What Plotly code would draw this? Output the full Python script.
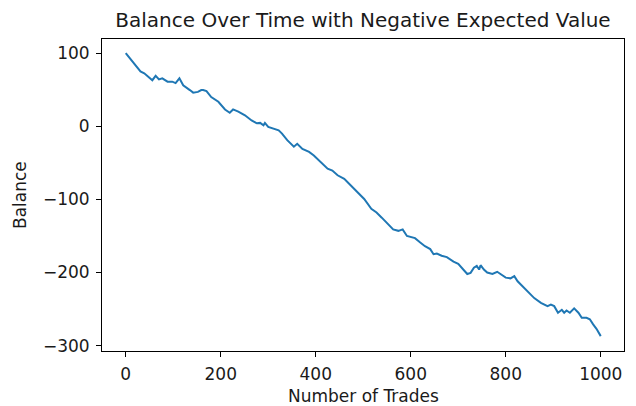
import plotly.graph_objects as go

# Trade index and running account balance
trades = [0, 31, 39, 56, 63, 70, 77, 88, 98, 105, 113, 121, 135, 142, 152, 159,
          163, 170, 180, 195, 209, 219, 226, 237, 251, 265, 276, 283, 290, 293,
          300, 312, 322, 329, 340, 354, 361, 372, 386, 396, 410, 425, 435, 446,
          460, 474, 481, 488, 502, 517, 528, 539, 549, 563, 574, 583, 592, 602,
          609, 620, 630, 641, 648, 655, 665, 676, 690, 700, 712, 719, 726, 733,
          739, 744, 747, 754, 761, 772, 782, 789, 800, 810, 818, 825, 835, 846,
          860, 874, 888, 895, 902, 910, 918, 923, 928, 935, 944, 953, 960, 970,
          977, 984, 991, 1000]
balance = [100, 75, 72.5, 63, 69, 64, 65.5, 61, 61, 59, 65.5, 56, 49.5, 46, 47, 49.5,
           49.5, 48, 40, 33.5, 23, 18.5, 23, 20, 15, 8, 4, 4.6, 1.4, 4.6,
           -1, -3, -5.5, -10, -19, -28, -24, -31, -35, -40, -49, -58, -60.5, -67,
           -72, -81, -86, -90, -99.5, -113, -118, -125, -131.5, -141, -143, -141, -150, -152,
           -153, -159, -164, -168, -175, -174, -177, -179, -185, -188, -196, -202, -200.5, -193.5,
           -191, -196, -190, -196, -200, -202, -199, -202, -207, -208, -205, -212, -219, -225.5,
           -235, -241.5, -246, -244, -246, -255, -251, -255, -252, -255, -249, -255, -262, -262,
           -264, -271, -277, -287]

x_ticks = [0, 200, 400, 600, 800, 1000]
y_ticks = [100, 0, -100, -200, -300]

FONT = "DejaVu Sans"
TXT = "#1a1a1a"

# plot area in pixels
L, R, T, B = 102, 12, 39, 55
W, H = 636, 406
PW, PH = W - L - R, H - T - B

fig = go.Figure(
    go.Scatter(
        x=trades,
        y=balance,
        mode="lines",
        line=dict(color="#1f77b4", width=2),
        hoverinfo="skip",
    )
)

axis_common = dict(
    showgrid=False,
    zeroline=False,
    showline=True,
    mirror=True,
    linecolor="black",
    linewidth=1,
    ticks="outside",
    ticklen=5,
    tickwidth=1,
    tickcolor="black",
    ticklabelstandoff=3,
    automargin=False,
    tickfont=dict(family=FONT, size=17, color=TXT),
)

fig.update_layout(
    width=W,
    height=H,
    margin=dict(l=L, r=R, t=T, b=B),
    paper_bgcolor="white",
    plot_bgcolor="white",
    showlegend=False,
    title=dict(
        text="Balance Over Time with Negative Expected Value",
        font=dict(family=FONT, size=20, color=TXT),
        x=(L + PW / 2) / W,
        xanchor="center",
        y=1 - 20 / H,
        yanchor="middle",
        yref="container",
    ),
    xaxis=dict(axis_common, range=[-49.95, 1048.95], tickvals=x_ticks),
    yaxis=dict(axis_common, range=[-307.35, 119.35], tickvals=y_ticks),
    annotations=[
        dict(
            text="Number of Trades",
            xref="paper", yref="paper",
            x=0.5, y=-(396 - (H - B)) / PH,
            xanchor="center", yanchor="middle",
            showarrow=False,
            font=dict(family=FONT, size=17, color=TXT),
        ),
        dict(
            text="Balance",
            xref="paper", yref="paper",
            x=-(L - 20) / PW, y=0.5,
            xanchor="center", yanchor="middle",
            textangle=-90,
            showarrow=False,
            font=dict(family=FONT, size=17, color=TXT),
        ),
    ],
)

fig.write_html("out.html")
